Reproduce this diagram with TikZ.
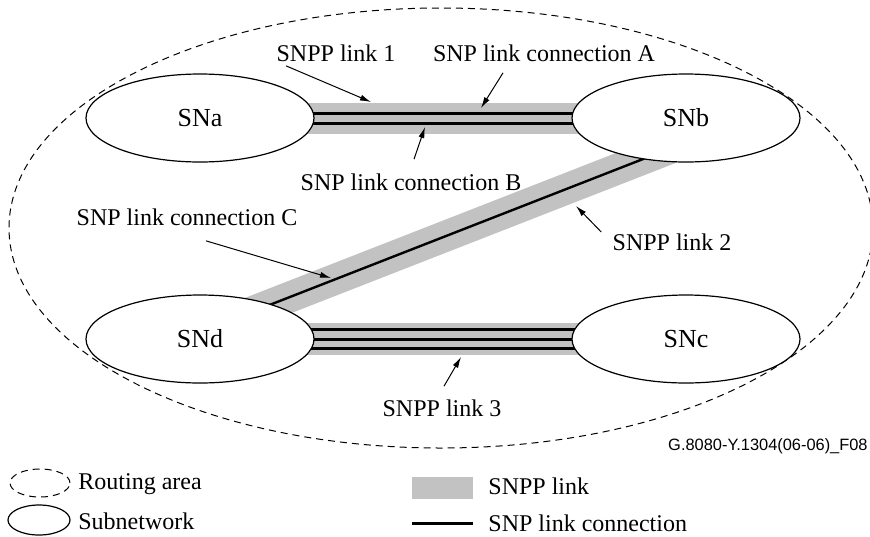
\documentclass[tikz,border=0pt]{standalone}
\usepackage{fontspec}
\setmainfont{Liberation Serif}
\newfontfamily\figsans{Liberation Sans}
\usetikzlibrary{shapes.geometric,arrows.meta,backgrounds}
\definecolor{snppgray}{RGB}{194,194,194}

\begin{document}
\begin{tikzpicture}[x = 0.5pt, y = -0.5pt,
    every node/.style = { font = \fontsize{12}{14}\selectfont },
    subnet/.style = { draw, shape = ellipse, line width = .6pt, fill = white,
                      inner sep = 0pt, minimum width = 114pt, minimum height = 44pt,
                      font = \fontsize{13}{15}\selectfont },
    area/.style = { draw, shape = ellipse, line width = .5pt, dash pattern = on 3.5pt off 2.5pt,
                    inner sep = 0pt },
    snpp/.style = { draw = snppgray, line width = 15.5pt },
    snplc/.style = { draw = black, line width = 1.5pt },
    pointer/.style = { line width = .5pt, -{Latex[length = 5.5pt, width = 3pt]} },
    lbl/.style = { inner sep = 0pt }]
    \useasboundingbox (0,0) rectangle (870,536);

    \node [area, minimum width = 432pt, minimum height = 220pt] (ra) at (441,228) {};

    \node [subnet] (sna) at (200,118) { SNa };
    \node [subnet] (snb) at (686,118) { SNb };
    \node [subnet] (snd) at (200,339) { SNd };
    \node [subnet] (snc) at (686,339) { SNc };

    \coordinate (c2a) at (230,320.4);
    \coordinate (c2b) at (680,144.6);

    \begin{scope}[on background layer]
      \draw [snpp] (sna.center) -- (snb.center);
      \draw [snplc] ([yshift = 2.5pt]sna.center) -- ([yshift = 2.5pt]snb.center);
      \draw [snplc] ([yshift = -2.5pt]sna.center) -- ([yshift = -2.5pt]snb.center);
      \draw [snpp] (c2a) -- (c2b);
      \draw [snplc, line width = 1.2pt] (c2a) -- (c2b);
      \draw [snpp, line width = 16pt] (snd.center) -- (snc.center);
      \draw [snplc] ([yshift = 4.75pt]snd.center) -- ([yshift = 4.75pt]snc.center);
      \draw [snplc] (snd.center) -- (snc.center);
      \draw [snplc] ([yshift = -4.75pt]snd.center) -- ([yshift = -4.75pt]snc.center);
    \end{scope}

    % labels and pointers
    \node [lbl] (snpp1) at (336,53) { SNPP link 1 };
    \node [lbl] (conna) at (544,53) { SNP link connection A };
    \node [lbl] (connb) at (411,182) { SNP link connection B };
    \node [lbl] (connc) at (187,217) { SNP link connection C };
    \node [lbl] (snpp2) at (672,242) { SNPP link 2 };
    \node [lbl] (snpp3) at (442,408) { SNPP link 3 };

    \coordinate (t1) at (371,102);
    \coordinate (ta) at (481,108);
    \coordinate (tb) at (425,127);
    \coordinate (tc) at (331,278);
    \coordinate (t2) at (576,206);
    \coordinate (t3) at (461,357);

    \draw [pointer] ([shift = {(-50,4)}]snpp1.south) -- (t1);
    \draw [pointer] ([shift = {(-41,11)}]conna.south) -- (ta);
    \draw [pointer] ([shift = {(3,-14)}]connb.north) -- (tb);
    \draw [pointer] ([shift = {(19,15)}]connc.south) -- (tc);
    \draw [pointer] ([shift = {(-11,-10)}]snpp2.west) -- (t2);
    \draw [pointer] ([shift = {(2,-13)}]snpp3.north) -- (t3);

    \node [lbl, anchor = east, font = \figsans\fontsize{8.2}{10}\selectfont] (figid) at (868,446)
      { G.8080-Y.1304(06-06)\_F08 };

    % legend
    \node [area, minimum width = 30pt, minimum height = 14pt] (keyra) at (40,483) {};
    \node [lbl, anchor = west] (keyral) at (78,484) { Routing area };
    \node [draw, shape = ellipse, line width = .6pt, inner sep = 0pt,
           minimum width = 31pt, minimum height = 15pt] (keysn) at (39,520) {};
    \node [lbl, anchor = west] (keysnl) at (78,521) { Subnetwork };
    \node [fill = snppgray, inner sep = 0pt, minimum width = 30.5pt, minimum height = 11pt]
      (keysnpp) at (442.5,488) {};
    \node [lbl, anchor = west] (keysnppl) at (488,486) { SNPP link };
    \coordinate (keyla) at (412,523);
    \coordinate (keylb) at (473,523);
    \draw [snplc] (keyla) -- (keylb);
    \node [lbl, anchor = west] (keylcl) at (488,523) { SNP link connection };
\end{tikzpicture}
\end{document}
